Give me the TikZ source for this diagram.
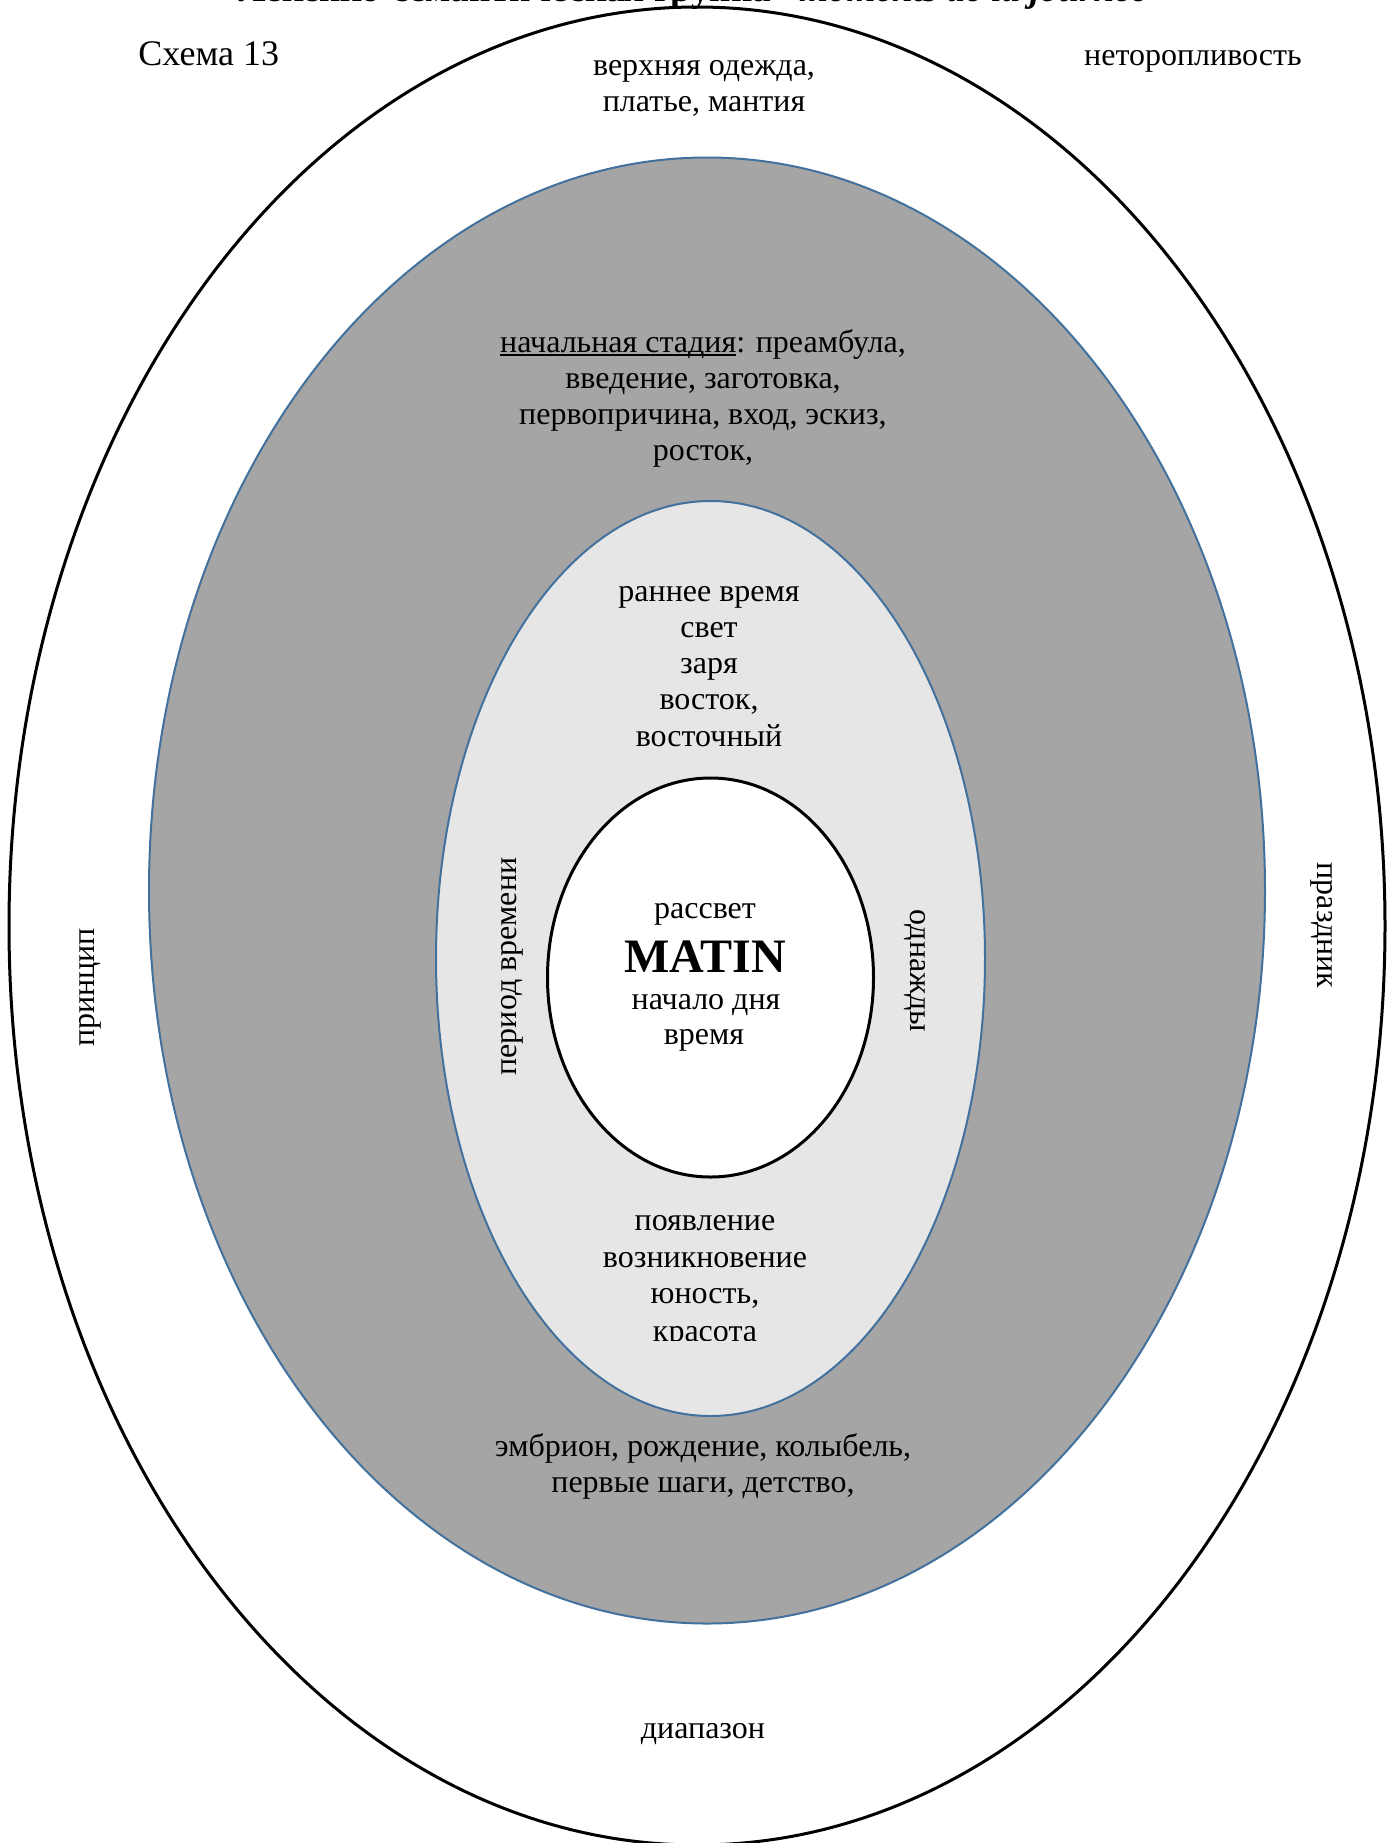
\documentclass[tikz,border=0pt]{standalone}
\usepackage{fontspec}
\setmainfont{Liberation Serif}
\definecolor{ringgray}{HTML}{A5A5A5}
\definecolor{ringblue}{HTML}{41719C}
\definecolor{lightfill}{HTML}{E7E6E6}
\newlength\ulinewd
\newcommand\ulinedword[1]{\settowidth\ulinewd{#1}\rlap{\rule[-1.7pt]{\ulinewd}{0.8pt}}#1}
\begin{document}
\begin{tikzpicture}[x=0.5pt,y=-0.5pt,
  txt/.style={font=\fontsize{16}{18.2}\selectfont, inner sep=0pt, anchor=base},
  vtxt/.style={font=\fontsize{16}{18.2}\selectfont, inner sep=0pt},
  ring/.style={line width=1pt, draw=ringblue},
  blackring/.style={line width=1.5pt, draw=black}]
\useasboundingbox (0,0) rectangle (1400,1843);
\fill[white] (0,0) rectangle (1400,1843);

% concentric fields
\filldraw[blackring, fill=white] (697,926) ellipse [x radius=344pt, y radius=459.5pt];
\filldraw[ring, fill=ringgray] (707,890.5) ellipse [x radius=279pt, y radius=366.5pt];
\filldraw[ring, fill=lightfill] (710.5,958.5) ellipse [x radius=137.25pt, y radius=228.75pt];
\filldraw[blackring, fill=white] (710.5,977.5) ellipse [x radius=81.5pt, y radius=99.75pt];

% heading
\node[txt, font=\fontsize{18.6}{21}\selectfont] (title) at (702,1.5) {\textbf{Лексико-семантическая группа} \textbf{\textit{“moments de la journée”}}};
\node[txt, anchor=base west, font=\fontsize{18}{20.7}\selectfont] (schema) at (138,65) {Схема 13};
\node[txt] (slow) at (1193,65) {неторопливость};

% outer field
\node[txt] (cloth1) at (704,75) {верхняя одежда,};
\node[txt] (cloth2) at (704,111) {платье, мантия};
\node[vtxt, rotate=90] (principle) at (90,987.5) {принцип};
\node[vtxt, rotate=-90] (holiday) at (1322,925.5) {праздник};
\node[txt] (range) at (703,1738) {диапазон};

% grey field
\node[txt] (stage1) at (703,352.5) {\ulinedword{начальная стадия}: преамбула,};
\node[txt] (stage2) at (703,388.6) {введение, заготовка,};
\node[txt] (stage3) at (703,424.7) {первопричина, вход, эскиз,};
\node[txt] (stage4) at (703,460.8) {росток,};
\node[txt] (birth1) at (703,1456) {эмбрион, рождение, колыбель,};
\node[txt] (birth2) at (703,1492.5) {первые шаги, детство,};

% light field
\node[txt] (early1) at (709,601) {раннее время};
\node[txt] (early2) at (709,637.3) {свет};
\node[txt] (early3) at (709,673.6) {заря};
\node[txt] (early4) at (709,709.9) {восток,};
\node[txt] (early5) at (709,746.2) {восточный};
\node[vtxt, rotate=90] (period) at (512,966.5) {период времени};
\node[vtxt, rotate=-90] (once) at (915,971) {однажды};
\begin{scope}
  \clip (480,1190) rectangle (940,1340.5);
  \node[txt] (rise1) at (705,1230.5) {появление};
  \node[txt] (rise2) at (705,1267) {возникновение};
  \node[txt] (rise3) at (705,1303.5) {юность,};
  \node[txt] (rise4) at (705,1341) {красота};
\end{scope}

% core
\node[txt] (dawn) at (705,918) {рассвет};
\node[txt, font=\fontsize{24}{27}\selectfont\bfseries] (matin) at (705,972) {MATIN};
\node[txt] (daystart) at (706,1009) {начало дня};
\node[txt] (time) at (704,1044) {время};
\end{tikzpicture}
\end{document}
